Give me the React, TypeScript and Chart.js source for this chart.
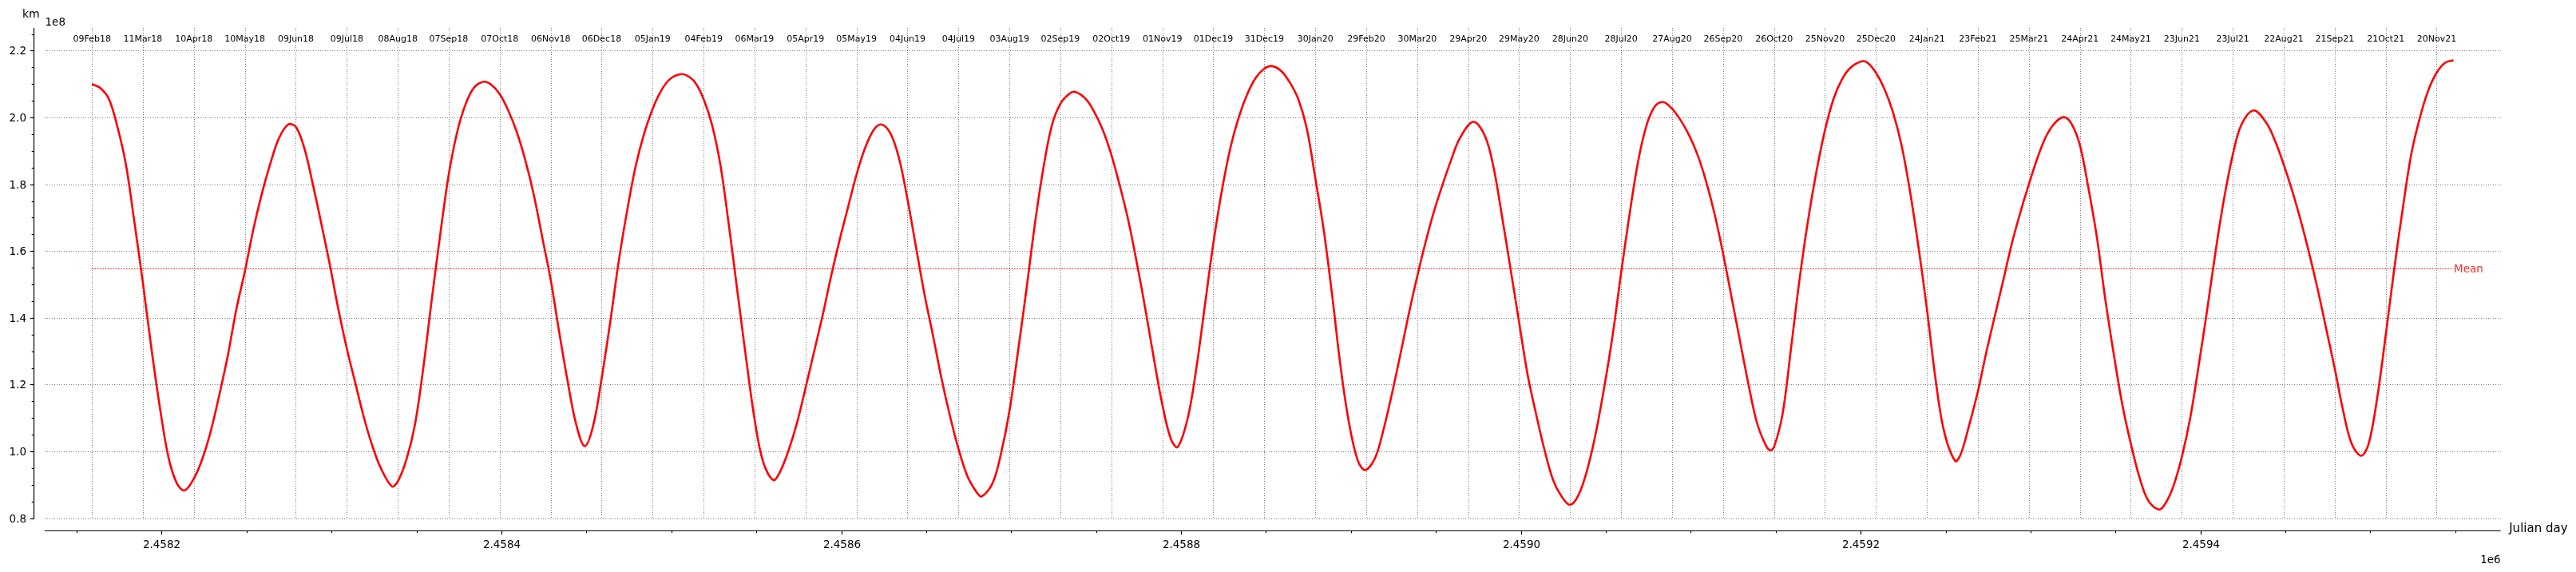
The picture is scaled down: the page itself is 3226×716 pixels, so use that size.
import React, { useEffect, useRef } from "react";
import { Chart, registerables } from "chart.js";

Chart.register(...registerables);

// Julian day of the first sample (09Feb18)
const START_JD = 2458159.0;

// days after START_JD
const DAY_OFFSETS = [
  0, 5, 10, 15, 20, 25, 30, 35, 40, 45, 50, 54.5, 60, 65, 70, 75, 80, 85, 90, 95, 100, 105, 110, 115.5,
  120, 125, 130, 135, 140, 145, 150, 155, 160, 165, 170, 176.6, 180, 185, 190, 195, 200, 205, 210, 215,
  220, 225, 230.8, 235, 240, 245, 250, 255, 260, 265, 270, 275, 280, 285, 290, 295, 300, 305, 310, 315,
  320, 325, 330, 335, 340, 346, 350, 355, 360, 365, 370, 375, 380, 385, 390, 395, 401, 405, 410, 415,
  420, 425, 430, 435, 440, 445, 450, 455, 460, 464.5, 470, 475, 480, 485, 490, 495, 500, 505, 510, 515,
  520, 523.5, 530, 535, 540, 545, 550, 555, 560, 565, 570, 575, 578.4, 585, 590, 595, 600, 605, 610, 615,
  620, 625, 630, 635, 639, 645, 650, 655, 660, 665, 670, 675, 680, 685, 690, 694.3, 700, 705, 710, 715,
  720, 725, 730, 735, 740, 745, 749.3, 755, 760, 765, 770, 775, 780, 785, 790, 795, 800, 805, 813, 820,
  825, 830, 835, 840, 845, 850, 855, 860, 865, 870, 875, 880, 885, 890, 895, 900, 905, 910, 915, 920,
  924.8, 930, 935, 940, 945, 950, 955, 960, 965, 970, 975, 980, 985, 987.7, 990, 995, 1000, 1005, 1010,
  1015, 1020, 1025, 1030, 1035, 1041.6, 1045, 1050, 1055, 1060, 1065, 1070, 1075, 1080, 1085, 1090,
  1096.7, 1100, 1105, 1110, 1115, 1120, 1125, 1130, 1135, 1140, 1145, 1150, 1155, 1160.5, 1165, 1170,
  1175, 1180, 1185, 1190, 1195, 1200, 1205, 1210, 1216.4, 1220, 1225, 1230, 1235, 1240, 1245, 1250, 1255,
  1260, 1265, 1272.3, 1280, 1285, 1290, 1295, 1300, 1305, 1310, 1315, 1320, 1325, 1330, 1335.6, 1340,
  1345, 1350, 1355, 1360, 1365, 1370, 1375, 1380, 1385, 1389.9,
];

// distance, in units of 1e8 km
const DISTANCE_1E8_KM = [
  2.100, 2.088, 2.055, 1.972, 1.859, 1.686, 1.504, 1.308, 1.131, 0.983, 0.904, 0.883, 0.919, 0.978, 1.062,
  1.170, 1.288, 1.426, 1.539, 1.665, 1.772, 1.862, 1.937, 1.979,
  1.972, 1.908, 1.800, 1.682, 1.559, 1.426, 1.308, 1.205, 1.103, 1.017, 0.950, 0.895, 0.910, 0.974, 1.077,
  1.249, 1.455, 1.650, 1.829, 1.957,
  2.041, 2.090, 2.107, 2.098, 2.070, 2.021, 1.957, 1.873, 1.770, 1.642, 1.514, 1.357, 1.209, 1.081, 1.016,
  1.077, 1.219, 1.386, 1.568, 1.721,
  1.854, 1.952, 2.026, 2.080, 2.114, 2.129, 2.126, 2.105, 2.055, 1.977, 1.854, 1.672, 1.475, 1.279, 1.096,
  0.969, 0.914, 0.939, 1.003, 1.086,
  1.190, 1.298, 1.406, 1.524, 1.632, 1.731, 1.829, 1.908, 1.962, 1.979, 1.952, 1.878, 1.755, 1.612, 1.470,
  1.347, 1.219, 1.106, 1.008, 0.929,
  0.883, 0.865, 0.904, 0.993, 1.121, 1.298, 1.485, 1.682, 1.849, 1.977, 2.041, 2.070, 2.077, 2.055, 2.016,
  1.962, 1.888, 1.795, 1.691, 1.564,
  1.426, 1.278, 1.140, 1.037, 1.013, 1.101, 1.249, 1.436, 1.623, 1.780, 1.908, 2.001, 2.070, 2.119, 2.146,
  2.154, 2.139, 2.105, 2.055, 1.967,
  1.819, 1.662, 1.465, 1.249, 1.081, 0.973, 0.944, 0.978, 1.062, 1.170, 1.288, 1.411, 1.524, 1.628, 1.721,
  1.800, 1.873, 1.937, 1.987, 1.943,
  1.849, 1.701, 1.544, 1.386, 1.229, 1.111, 1.003, 0.914, 0.865, 0.840, 0.870, 0.944, 1.052, 1.190, 1.347,
  1.534, 1.711, 1.868, 1.977, 2.034,
  2.046, 2.026, 1.992, 1.947, 1.888, 1.809, 1.711, 1.593, 1.462, 1.330, 1.200, 1.085, 1.020, 1.003, 1.013,
  1.111, 1.308, 1.514, 1.691,
  1.839, 1.962, 2.055, 2.114, 2.149, 2.168, 2.164, 2.134, 2.085, 2.016, 1.918, 1.780, 1.613, 1.426, 1.219,
  1.062,
  0.971, 0.993, 1.081, 1.180, 1.298, 1.406, 1.514, 1.623, 1.716, 1.800, 1.878, 1.942, 1.982, 2.001, 1.982,
  1.918,
  1.790, 1.642, 1.455, 1.290, 1.140, 1.023, 0.924, 0.855, 0.826, 0.841, 0.895, 0.983, 1.101, 1.259, 1.426,
  1.603, 1.760,
  1.888, 1.977, 2.021, 1.982, 1.928, 1.859, 1.780, 1.691, 1.593, 1.485, 1.367, 1.249, 1.121, 1.023, 0.987,
  1.023,
  1.160, 1.347, 1.545, 1.725, 1.888, 1.997, 2.080, 2.134, 2.164, 2.171,
];

const MEAN_1E8_KM = 1.547;

// top axis: one date label every 30 days from START_JD
const TOP_DATE_STEP_DAYS = 30;
const TOP_DATE_LABELS = [
  "09Feb18", "11Mar18", "10Apr18", "10May18", "09Jun18", "09Jul18", "08Aug18", "07Sep18", "07Oct18",
  "06Nov18", "06Dec18", "05Jan19", "04Feb19", "06Mar19", "05Apr19", "05May19", "04Jun19", "04Jul19",
  "03Aug19", "02Sep19", "02Oct19", "01Nov19", "01Dec19", "31Dec19", "30Jan20", "29Feb20", "30Mar20",
  "29Apr20", "29May20", "28Jun20", "28Jul20", "27Aug20", "26Sep20", "26Oct20", "25Nov20", "25Dec20",
  "24Jan21", "23Feb21", "25Mar21", "24Apr21", "24May21", "23Jun21", "23Jul21", "22Aug21", "21Sep21",
  "21Oct21", "20Nov21",
];

const Y_TICKS = [0.8, 1.0, 1.2, 1.4, 1.6, 1.8, 2.0, 2.2];
const Y_TICK_LABELS = ["0.8", "1.0", "1.2", "1.4", "1.6", "1.8", "2.0", "2.2"];
const Y_MINOR_STEP = 0.05;

const X_TICKS_JD = [2458200, 2458400, 2458600, 2458800, 2459000, 2459200, 2459400];
const X_TICK_LABELS = ["2.4582", "2.4584", "2.4586", "2.4588", "2.4590", "2.4592", "2.4594"];
const X_MINOR_STEP = 50;

const X_MIN = 2458131.2;
const X_MAX = 2459576.7;
const Y_MIN = 0.7967;
const Y_MAX = 2.268;

const FONT = "'DejaVu Sans', 'Liberation Sans', sans-serif";

const overlay = {
  id: "overlay",
  beforeDatasetsDraw(chart: any) {
    const { ctx, chartArea: a, scales } = chart;
    const xs = scales.x;
    const ys = scales.y;
    ctx.save();
    // grid
    ctx.strokeStyle = "#7a7a7a";
    ctx.lineWidth = 1;
    ctx.setLineDash([1, 2]);
    for (const v of Y_TICKS) {
      const y = Math.round(ys.getPixelForValue(v)) + 0.5;
      ctx.beginPath();
      ctx.moveTo(a.left, y);
      ctx.lineTo(a.right, y);
      ctx.stroke();
    }
    TOP_DATE_LABELS.forEach((_, i) => {
      const x = Math.round(xs.getPixelForValue(START_JD + i * TOP_DATE_STEP_DAYS)) + 0.5;
      ctx.beginPath();
      ctx.moveTo(x, a.top);
      ctx.lineTo(x, ys.getPixelForValue(0.8));
      ctx.stroke();
    });
    // mean line
    const x0 = xs.getPixelForValue(START_JD + DAY_OFFSETS[0]);
    const x1 = xs.getPixelForValue(START_JD + DAY_OFFSETS[DAY_OFFSETS.length - 1]);
    const ym = Math.round(ys.getPixelForValue(MEAN_1E8_KM)) + 0.5;
    ctx.strokeStyle = "#ff0000";
    ctx.lineWidth = 1.2;
    ctx.setLineDash([1.5, 1.8]);
    ctx.beginPath();
    ctx.moveTo(x0, ym);
    ctx.lineTo(x1, ym);
    ctx.stroke();
    ctx.restore();
  },
  afterDatasetsDraw(chart: any) {
    const { ctx, chartArea: a, scales } = chart;
    const xs = scales.x;
    const ys = scales.y;
    ctx.save();
    ctx.setLineDash([]);
    ctx.fillStyle = "#000";
    ctx.strokeStyle = "#000";

    // top date labels
    ctx.font = `11px ${FONT}`;
    ctx.textAlign = "center";
    ctx.textBaseline = "alphabetic";
    TOP_DATE_LABELS.forEach((lab, i) => {
      const x = xs.getPixelForValue(START_JD + i * TOP_DATE_STEP_DAYS);
      ctx.fillText(lab, x, 51.5);
    });

    // y spine (offset left)
    const sx = a.left - 14 + 0.5;
    ctx.lineWidth = 1.2;
    ctx.beginPath();
    ctx.moveTo(sx, a.top);
    ctx.lineTo(sx, a.bottom);
    ctx.stroke();
    ctx.lineWidth = 1.1;
    for (let v = 0.8; v <= Y_MAX + 1e-9; v += Y_MINOR_STEP) {
      const y = Math.round(ys.getPixelForValue(v)) + 0.5;
      ctx.beginPath();
      ctx.moveTo(sx, y);
      ctx.lineTo(sx - 2.8, y);
      ctx.stroke();
    }
    ctx.font = `13.5px ${FONT}`;
    ctx.textAlign = "right";
    ctx.textBaseline = "middle";
    Y_TICKS.forEach((v, i) => {
      const y = Math.round(ys.getPixelForValue(v)) + 0.5;
      ctx.beginPath();
      ctx.moveTo(sx, y);
      ctx.lineTo(sx - 4.9, y);
      ctx.stroke();
      ctx.fillText(Y_TICK_LABELS[i], sx - 9.5, y + 1);
    });

    // x spine (offset down)
    const sy = a.bottom + 14 + 0.5;
    ctx.lineWidth = 1.2;
    ctx.beginPath();
    ctx.moveTo(a.left, sy);
    ctx.lineTo(a.right, sy);
    ctx.stroke();
    ctx.lineWidth = 1.1;
    for (let v = Math.ceil(X_MIN / X_MINOR_STEP) * X_MINOR_STEP; v <= X_MAX; v += X_MINOR_STEP) {
      const x = Math.round(xs.getPixelForValue(v)) + 0.5;
      ctx.beginPath();
      ctx.moveTo(x, sy);
      ctx.lineTo(x, sy + 2.8);
      ctx.stroke();
    }
    ctx.textAlign = "center";
    ctx.textBaseline = "alphabetic";
    X_TICKS_JD.forEach((v, i) => {
      const x = Math.round(xs.getPixelForValue(v)) + 0.5;
      ctx.beginPath();
      ctx.moveTo(x, sy);
      ctx.lineTo(x, sy + 4.9);
      ctx.stroke();
      ctx.fillText(X_TICK_LABELS[i], x, 686);
    });

    // offsets & axis labels
    ctx.textAlign = "right";
    ctx.fillText("1e6", a.right, 705);
    ctx.textAlign = "left";
    ctx.fillText("1e8", a.left + 0.5, 32);
    ctx.font = `14px ${FONT}`;
    ctx.fillText("km", 28, 21.5);
    ctx.font = `15px ${FONT}`;
    ctx.fillText("Julian day", a.right + 10.5, 665.5);

    // mean label
    const x1 = xs.getPixelForValue(START_JD + DAY_OFFSETS[DAY_OFFSETS.length - 1]);
    const ym = ys.getPixelForValue(MEAN_1E8_KM);
    ctx.font = `13.5px ${FONT}`;
    ctx.fillStyle = "rgba(255,0,0,0.85)";
    ctx.textBaseline = "middle";
    ctx.fillText("Mean", x1 + 0.5, ym + 1);
    ctx.restore();
  },
};

export default function App() {
  const ref = useRef<HTMLCanvasElement>(null);
  useEffect(() => {
    if (!ref.current) return;
    const points = DAY_OFFSETS.map((d, i) => ({ x: START_JD + d, y: DISTANCE_1E8_KM[i] }));
    const chart = new Chart(ref.current, {
      type: "line",
      data: {
        datasets: [
          {
            data: points,
            borderColor: "#ff0000",
            backgroundColor: "#ff0000",
            borderWidth: 2.6,
            pointRadius: 0,
            tension: 0.35,
            fill: false,
          },
        ],
      },
      options: {
        animation: false,
        responsive: false,
        maintainAspectRatio: false,
        devicePixelRatio: 1,
        layout: { padding: { left: 56, top: 35, right: 94.3, bottom: 66 } },
        plugins: { legend: { display: false }, tooltip: { enabled: false }, title: { display: false } },
        scales: {
          x: { type: "linear", display: false, min: X_MIN, max: X_MAX },
          y: { type: "linear", display: false, min: Y_MIN, max: Y_MAX },
        },
      },
      plugins: [overlay],
    } as any);
    return () => chart.destroy();
  }, []);
  return (
    <div style={{ position: "fixed", left: 0, top: 0, width: 3226, height: 716, background: "#fff" }}>
      <canvas ref={ref} width={3226} height={716} style={{ display: "block", width: 3226, height: 716 }} />
    </div>
  );
}
